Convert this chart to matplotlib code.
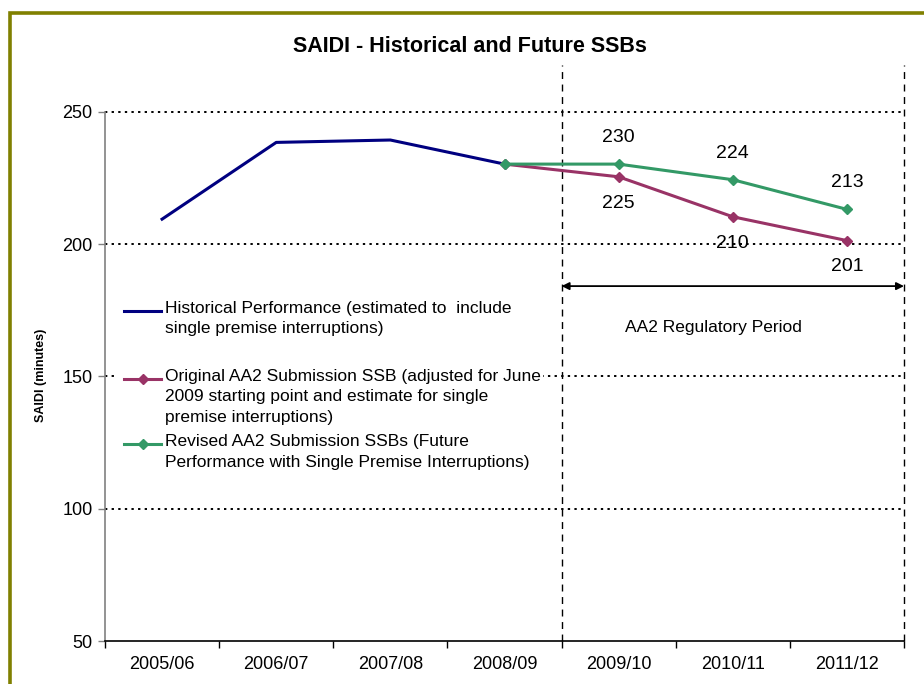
import matplotlib
matplotlib.use("Agg")
from matplotlib import pyplot as plt
from matplotlib.patches import Rectangle

plt.rcParams['font.family'] = ['Liberation Sans', 'DejaVu Sans']

years = ["2005/06", "2006/07", "2007/08", "2008/09", "2009/10", "2010/11", "2011/12"]
hist = [209.4, 238.4, 239.3, 230.2]
original = [230.2, 225.4, 210.3, 201.3]
revised = [230.2, 230.2, 224.3, 213.1]
yticks = [50, 100, 150, 200, 250]
hist_label = "Historical Performance (estimated to  include\nsingle premise interruptions)"
orig_label = "Original AA2 Submission SSB (adjusted for June\n2009 starting point and estimate for single\npremise interruptions)"
rev_label = "Revised AA2 Submission SSBs (Future\nPerformance with Single Premise Interruptions)"

navy = "#000080"
plum = "#993366"
green = "#339966"

fig = plt.figure(figsize=(9.24, 6.84), dpi=100)
ax = fig.add_axes([105/924, 43/684, 799/924, 529.3/684])

# olive frame round the chart (runs off right and bottom)
fig.patches.append(Rectangle((10/924, -0.2), 1.5, (684-13)/684 + 0.2, transform=fig.transFigure,
                             fill=False, edgecolor="#808000", lw=2.6, zorder=0))

x_hist = list(range(0, 4))
x_fut = list(range(3, 7))

# grid
for g in yticks[1:]:
    ax.plot([-0.5, 6.5], [g, g], color="black", lw=1.4, ls=(0, (1.2, 2.2)), zorder=1, clip_on=False)

# regulatory period lines
for xv in [3.5, 6.5]:
    ax.plot([xv, xv], [50, 267.5], color="black", lw=1.0, ls=(0, (5, 4)), zorder=1, clip_on=False)

ax.plot(x_hist, hist, color=navy, lw=2.2, zorder=3)
ax.plot(x_fut, original, color=plum, lw=2.2, marker="D", markersize=5.5, zorder=3)
ax.plot(x_fut, revised, color=green, lw=2.2, marker="D", markersize=5.5, zorder=4)

for xv, v in zip(x_fut[1:], revised[1:]):
    ax.annotate("%.0f" % v, (xv, v), xytext=(0, 19), textcoords="offset points",
                ha="center", va="center", fontsize=14)
for xv, v in zip(x_fut[1:], original[1:]):
    ax.annotate("%.0f" % v, (xv, v), xytext=(0, -19), textcoords="offset points",
                ha="center", va="center", fontsize=14)

ax.annotate("", xy=(3.5, 184.1), xytext=(6.5, 184.1),
            arrowprops=dict(arrowstyle="<|-|>", color="black", lw=1.3, mutation_scale=11,
                            shrinkA=0, shrinkB=0))
ax.text(4.83, 168.3, "AA2 Regulatory Period", ha="center", va="center", fontsize=12.5)

# legend drawn by hand so the key sits on the first line of each entry
ax.add_patch(Rectangle((0.0163, 0.308), 0.532, 0.34, transform=ax.transAxes,
                       facecolor="white", edgecolor="none", zorder=2))
entries = [(hist_label, navy, None, 0.6235), (orig_label, plum, "D", 0.495), (rev_label, green, "D", 0.372)]
for lab, c, m, yy in entries:
    ax.plot([0.0238, 0.0701], [yy, yy], color=c, lw=2.2, transform=ax.transAxes, clip_on=False, zorder=5)
    if m:
        ax.plot([0.047], [yy], color=c, marker=m, markersize=5.5, transform=ax.transAxes,
                clip_on=False, zorder=5)
    ax.text(0.0751, yy + 10/529.3, lab, transform=ax.transAxes, ha="left", va="top", fontsize=12.5,
            linespacing=1.45, zorder=5)

ax.set_xlim(-0.5, 6.5)
ax.set_ylim(50, 250)
ax.set_yticks(yticks)
ax.tick_params(axis="y", labelsize=13, length=5, width=1, color="#808080", pad=4)
ax.set_xticks([i - 0.5 for i in range(8)])
ax.set_xticklabels([""] * 8)
ax.set_xticks(range(7), minor=True)
ax.set_xticklabels(years, minor=True)
ax.tick_params(axis="x", which="major", length=5, width=1, color="black")
ax.tick_params(axis="x", which="minor", length=0, labelsize=13, pad=11)

ax.spines["top"].set_visible(False)
ax.spines["right"].set_visible(False)
ax.spines["left"].set_color("#808080")
ax.spines["left"].set_linewidth(1.2)
ax.spines["bottom"].set_linewidth(1.2)

fig.text(470/924, 1 - 47/684, "SAIDI - Historical and Future SSBs", ha="center", va="center",
         fontsize=15.5, fontweight="bold")
fig.text(41/924, 1 - 375/684, "SAIDI (minutes)", ha="center", va="center", rotation=90,
         fontsize=9, fontweight="bold")

fig.savefig("out.png", dpi=100)
